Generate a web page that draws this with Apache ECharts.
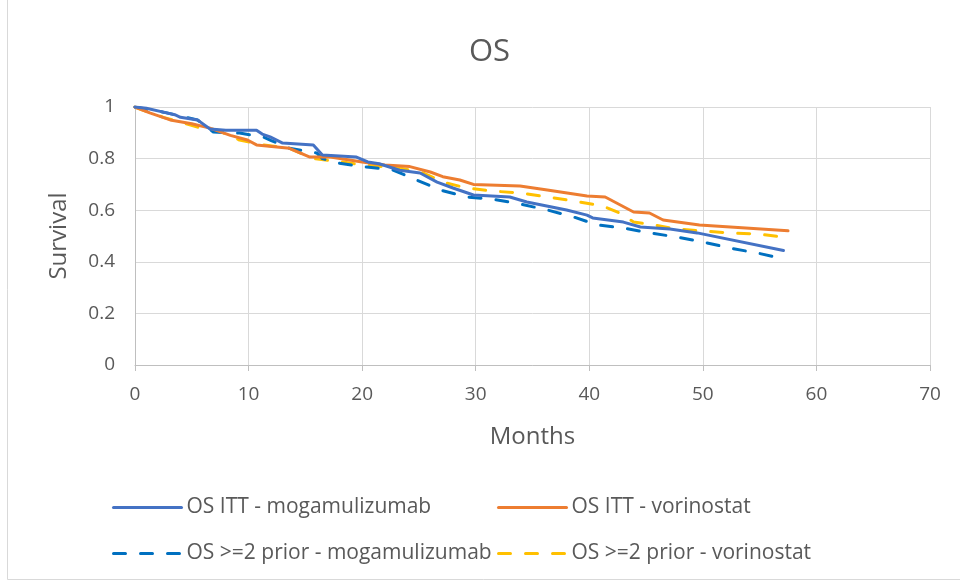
<!DOCTYPE html>
<html>
<head>
<meta charset="utf-8">
<script src="https://cdn.jsdelivr.net/npm/echarts@6/dist/echarts.min.js"></script>
<style>
html,body{margin:0;padding:0;background:#fff;}
#chart{width:960px;height:581px;}
</style>
</head>
<body>
<div id="chart"></div>
<script>
// ---- data (months, survival) ----
const seriesNames = [
  'OS ITT - mogamulizumab',
  'OS ITT - vorinostat',
  'OS >=2 prior - mogamulizumab',
  'OS >=2 prior - vorinostat'
];
const xTicks = [0, 10, 20, 30, 40, 50, 60, 70];
const yTicks = [0, 0.2, 0.4, 0.6, 0.8, 1];

const ittMoga = [
  [0,1],[1,0.995],[2.5,0.98],[3.5,0.97],[4,0.96],[5.5,0.95],[6.6,0.915],[8,0.91],
  [10.7,0.91],[11.2,0.895],[11.9,0.884],[13,0.86],[15.7,0.853],[16.5,0.814],[19.5,0.806],
  [20.5,0.787],[21.5,0.78],[23.3,0.755],[25.1,0.744],[26.6,0.709],[28,0.686],[29.8,0.659],
  [33,0.651],[34.5,0.632],[38,0.601],[39.8,0.581],[40.3,0.57],[43,0.554],[44.5,0.535],
  [47.1,0.527],[49.5,0.512],[57.1,0.444]
];
const ittVor = [
  [0,1],[1.3,0.977],[3.1,0.95],[5,0.935],[6.6,0.918],[8.4,0.89],[9.9,0.872],[10.7,0.853],
  [13.6,0.84],[15.4,0.806],[17.2,0.806],[20,0.787],[22,0.775],[24.2,0.769],[26,0.748],
  [27.1,0.73],[28.6,0.717],[29.8,0.70],[33.9,0.694],[36.3,0.678],[39.8,0.655],[41.4,0.651],
  [42.4,0.628],[43.9,0.593],[45.3,0.589],[46.5,0.562],[49.7,0.543],[57.5,0.52]
];
const priorMoga = [
  [0,1],[2.5,0.98],[5.5,0.95],[6.9,0.903],[9.2,0.899],[11.3,0.884],[12,0.87],[13.6,0.84],
  [16,0.822],[16.5,0.80],[17.8,0.783],[20.4,0.767],[22.7,0.756],[24.8,0.717],[26.9,0.678],
  [29.2,0.651],[31.5,0.643],[33.9,0.624],[36.3,0.601],[38.6,0.574],[40.7,0.543],[43,0.531],
  [45.3,0.512],[47.7,0.496],[50,0.477],[52.4,0.453],[54.8,0.434],[57.1,0.412]
];
const priorVor = [
  [0,1],[0.2,0.996],[2.5,0.96],[5.5,0.922],[7.2,0.911],[9.2,0.872],[11.3,0.853],[13.6,0.84],
  [15.7,0.80],[18.3,0.787],[20.1,0.775],[23.3,0.764],[25.4,0.744],[27.1,0.709],[29.2,0.686],
  [31.5,0.674],[33.9,0.667],[36.3,0.651],[38.6,0.636],[40.7,0.62],[41.2,0.616],[42.7,0.589],
  [43.9,0.554],[45.3,0.546],[47.7,0.527],[50,0.519],[52.4,0.512],[54.8,0.508],[57.6,0.493]
];

const colors = ['#4472C4', '#ED7D31', '#0070C0', '#FFC000'];
const dashes = ['solid', 'solid', [12, 15], [12, 15]];
const dataSets = [ittMoga, ittVor, priorMoga, priorVor];

const FONT = '"Open Sans", sans-serif';
const GREY = '#595959';

const chart = echarts.init(document.getElementById('chart'), null, {renderer: 'canvas'});

const legendPos = [
  {left: 112, top: 497},
  {left: 497, top: 497},
  {left: 112, top: 543},
  {left: 497, top: 543}
];

const option = {
  backgroundColor: '#fff',
  animation: false,
  title: {
    text: 'OS',
    left: 469,
    top: 37,
    padding: 0,
    textStyle: {fontFamily: FONT, fontSize: 31, fontWeight: 'normal', color: GREY}
  },
  legend: legendPos.map((p, i) => ({
    data: [seriesNames[i]],
    left: p.left,
    top: p.top,
    padding: 0,
    itemWidth: 68,
    itemHeight: 14,
    itemStyle: {opacity: 0, borderWidth: 0},
    lineStyle: {width: 3},
    textStyle: {fontFamily: FONT, fontSize: 21, color: GREY}
  })),
  grid: {left: 135, right: 30, top: 107, bottom: 216, containLabel: false},
  xAxis: {
    type: 'value',
    min: xTicks[0],
    max: xTicks[xTicks.length - 1],
    interval: 10,
    name: 'Months',
    nameLocation: 'middle',
    nameGap: 60,
    nameTextStyle: {fontFamily: FONT, fontSize: 24, color: GREY},
    axisLine: {show: true, lineStyle: {color: '#BFBFBF', width: 1}},
    axisTick: {show: true, length: 6, lineStyle: {color: '#BFBFBF'}},
    axisLabel: {fontFamily: FONT, fontSize: 19, color: GREY, margin: 20},
    splitLine: {show: true, lineStyle: {color: '#D9D9D9', width: 1}}
  },
  yAxis: {
    type: 'value',
    min: yTicks[0],
    max: yTicks[yTicks.length - 1],
    interval: 0.2,
    name: 'Survival',
    nameLocation: 'middle',
    nameRotate: 90,
    nameGap: 64,
    nameTextStyle: {fontFamily: FONT, fontSize: 24, color: GREY},
    axisLine: {show: true, lineStyle: {color: '#BFBFBF', width: 1}},
    axisTick: {show: false},
    axisLabel: {fontFamily: FONT, fontSize: 19, color: GREY, margin: 20},
    splitLine: {show: true, lineStyle: {color: '#D9D9D9', width: 1}}
  },
  graphic: [
    {type: 'line', shape: {x1: 7.5, y1: 0, x2: 7.5, y2: 579.5}, style: {stroke: '#D9D9D9', lineWidth: 1}},
    {type: 'line', shape: {x1: 7.5, y1: 579.5, x2: 960, y2: 579.5}, style: {stroke: '#D9D9D9', lineWidth: 1}}
  ],
  series: dataSets.map((d, i) => ({
    name: seriesNames[i],
    type: 'line',
    data: d,
    symbol: 'none',
    showSymbol: false,
    smooth: false,
    color: colors[i],
    lineStyle: {color: colors[i], width: 3, type: dashes[i], cap: 'round', join: 'round'},
    z: 10 - i
  }))
};
chart.setOption(option);
</script>
</body>
</html>
